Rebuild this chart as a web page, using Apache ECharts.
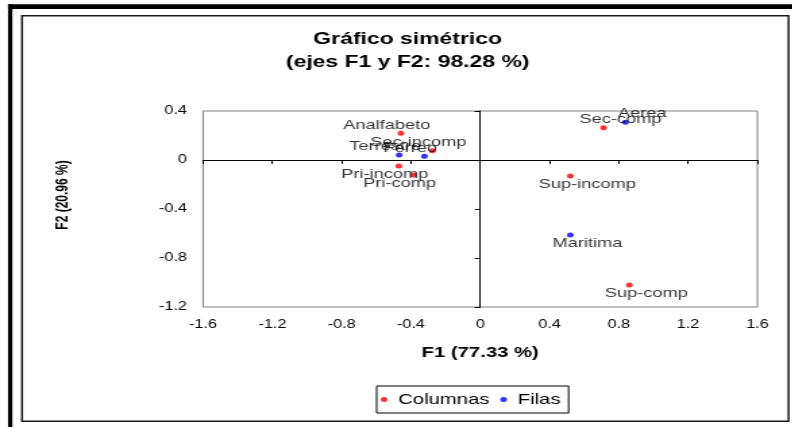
<!DOCTYPE html>
<html>
<head>
<meta charset="utf-8">
<script src="https://cdn.jsdelivr.net/npm/echarts@6/dist/echarts.min.js"></script>
<style>
html,body{margin:0;padding:0;background:#fff;overflow:hidden;width:792px;height:427px;}
#c{height:427px;transform-origin:0 0;}
</style>
</head>
<body>
<div id="c"></div>
<script>
// Data
const colNames = ['Analfabeto','Sec-incomp','Pri-incomp','Pri-comp','Sec-comp','Sup-incomp','Sup-comp'];
const colX = [-0.458, -0.276, -0.470, -0.385, 0.712, 0.520, 0.861];
const colY = [0.218, 0.076, -0.049, -0.122, 0.264, -0.131, -1.020];
const rowNames = ['Terrestre','Ferreo','Aerea','Maritima'];
const rowX = [-0.468, -0.322, 0.838, 0.520];
const rowY = [0.041, 0.030, 0.308, -0.612];
const xTicks = [-1.6, -1.2, -0.8, -0.4, 0, 0.4, 0.8, 1.2, 1.6];
const yTicks = [-1.2, -0.8, -0.4, 0, 0.4];

// Horizontal stretch of the reference rendering
const S = 1.35;
const W = 792 / S;
const el = document.getElementById('c');
el.style.width = W + 'px';
el.style.transform = 'scaleX(' + S + ')';

const FONT = '"Liberation Sans", Arial, sans-serif';
const fmt = v => String(Math.round(v * 10) / 10);

function items(names, xs, ys) {
  return names.map((n, i) => ({
    name: n,
    value: [xs[i], ys[i]],
    label: {
      position: 'inside',
      offset: [xs[i] < 0 ? -10.4 : 12.6, ys[i] >= 0 ? -8.5 : 8.5]
    }
  }));
}

const xMin = xTicks[0], xMax = xTicks[xTicks.length - 1], xInt = xTicks[1] - xTicks[0];
const yMin = yTicks[0], yMax = yTicks[yTicks.length - 1], yInt = yTicks[1] - yTicks[0];

const chart = echarts.init(el, null, {renderer: 'canvas'});
chart.setOption({
  backgroundColor: '#fff',
  animation: false,
  title: {
    text: 'Gráfico simétrico\n(ejes F1 y F2: 98.28 %)',
    left: 302, top: 28, padding: 0, textAlign: 'center',
    textStyle: {fontFamily: FONT, fontSize: 17, fontWeight: 'bold', color: '#000', lineHeight: 23}
  },
  legend: {
    data: ['Columnas', 'Filas'],
    left: 279, top: 386,
    padding: [6, 6, 6, 3],
    icon: 'circle', itemWidth: 11, itemHeight: 5, itemGap: 8,
    borderColor: '#000', borderWidth: 1,
    textStyle: {fontFamily: FONT, fontSize: 15, color: '#000'}
  },
  grid: {
    left: 150.4, right: W - 560.7, top: 111, bottom: 120,
    show: true, borderColor: '#808080', borderWidth: 1, backgroundColor: 'transparent'
  },
  xAxis: [{
    type: 'value', min: xMin, max: xMax, interval: xInt, position: 'bottom',
    axisLine: {show: false, onZero: false}, axisTick: {show: false}, splitLine: {show: false},
    axisLabel: {fontFamily: FONT, fontSize: 12, color: '#000', margin: 12, formatter: fmt},
    name: 'F1 (77.33 %)', nameLocation: 'middle', nameGap: 38,
    nameTextStyle: {fontFamily: FONT, fontSize: 15, fontWeight: 'bold', color: '#000'}
  }, {
    type: 'value', min: xMin, max: xMax, interval: xInt, position: 'bottom',
    axisLine: {show: true, onZero: true, lineStyle: {color: '#000', width: 1}},
    axisTick: {show: true, length: 4, lineStyle: {color: '#000'}},
    axisLabel: {show: false}, splitLine: {show: false}
  }],
  yAxis: [{
    type: 'value', min: yMin, max: yMax, interval: yInt, position: 'left',
    axisLine: {show: false, onZero: false}, axisTick: {show: false}, splitLine: {show: false},
    axisLabel: {fontFamily: FONT, fontSize: 12, color: '#000', margin: 12, formatter: fmt}
  }, {
    type: 'value', min: yMin, max: yMax, interval: yInt, position: 'left',
    axisLine: {show: true, onZero: true, lineStyle: {color: '#000', width: 1}},
    axisTick: {show: true, length: 4, lineStyle: {color: '#000'}},
    axisLabel: {show: false}, splitLine: {show: false}
  }],
  graphic: [
    {type: 'rect', shape: {x: 5.93, y: 4.3, width: 3.2, height: 440}, style: {fill: '#000'}, z: 100},
    {type: 'rect', shape: {x: 5.93, y: 4.3, width: 600, height: 4.7}, style: {fill: '#000'}, z: 100},
    {type: 'rect', shape: {x: 16.3, y: 15.8, width: 567.8, height: 405.4}, style: {fill: 'none', stroke: '#1a1a1a', lineWidth: 1.5}, z: 100},
    {type: 'text', x: 46.4, y: 195, rotation: Math.PI / 2,
     style: {text: 'F2 (20.96 %)', font: 'bold 12px ' + FONT, fill: '#000', align: 'center', verticalAlign: 'middle'}}
  ],
  series: [{
    name: 'Columnas', type: 'scatter', xAxisIndex: 0, yAxisIndex: 0,
    symbol: 'circle', symbolSize: 5,
    itemStyle: {color: '#ff0000'},
    label: {show: true, formatter: '{b}', fontFamily: FONT, fontSize: 13.5, color: '#000'},
    data: items(colNames, colX, colY)
  }, {
    name: 'Filas', type: 'scatter', xAxisIndex: 0, yAxisIndex: 0,
    symbol: 'circle', symbolSize: 5,
    itemStyle: {color: '#0000ff'},
    label: {show: true, formatter: '{b}', fontFamily: FONT, fontSize: 13.5, color: '#000'},
    data: items(rowNames, rowX, rowY)
  }]
});
</script>
</body>
</html>
